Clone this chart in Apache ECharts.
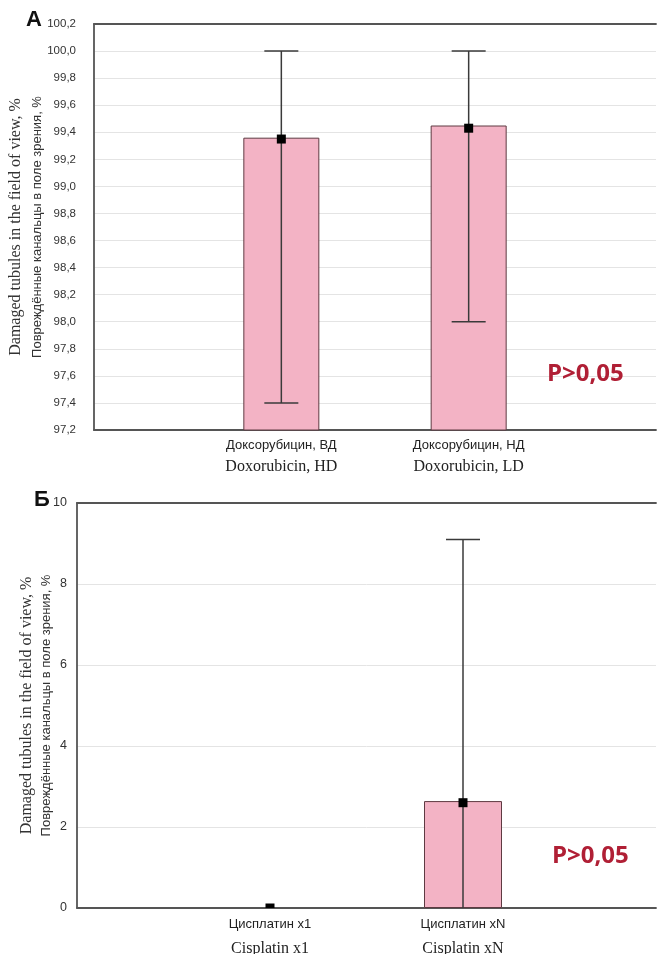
<!DOCTYPE html>
<html>
<head>
<meta charset="utf-8">
<script src="https://cdn.jsdelivr.net/npm/echarts@6/dist/echarts.min.js"></script>
<style>html,body{margin:0;padding:0;background:#fff}#c{width:657px;height:954px}</style>
</head>
<body>
<div id="c"></div>
<script>
// ---- Panel A (Doxorubicin) ----
const catsTopRu = ['Доксорубицин, ВД', 'Доксорубицин, НД'];
const catsTopEn = ['Doxorubicin, HD', 'Doxorubicin, LD'];
const barTop = [99.36, 99.45];
const meanTop = [99.35, 99.43];
const lowTop = [97.4, 98.0];
const highTop = [100.0, 100.0];
const yTopMin = 97.2, yTopMax = 100.2, yTopStep = 0.2;

// ---- Panel Б (Cisplatin) ----
const catsBotRu = ['Цисплатин x1', 'Цисплатин xN'];
const catsBotEn = ['Cisplatin x1', 'Cisplatin xN'];
const barBot = [0, 2.64];
const meanBot = [0, 2.6];
const lowBot = [0, 0];
const highBot = [0, 9.1];
const yBotMin = 0, yBotMax = 10, yBotStep = 2;

const yNameEn = 'Damaged tubules in the field of view, %';
const yNameRu = 'Повреждённые канальцы в поле зрения, %';
const pText = 'P>0,05';

const AX = '#555';
const GRID = '#e4e4e4';
const BAR = '#f3b3c5';
const BAR_BORDER = '#5e3a42';
const ERR = '#3a3a3a';

function padCats(arr) { return [''].concat(arr.map((_, i) => String(i)), ['']); }
function catLabel(ru, en) {
  return function (v, idx) {
    if (idx === 0 || idx === ru.length + 1) return '';
    return '{ru|' + ru[idx - 1] + '}\n{en|' + en[idx - 1] + '}';
  };
}
function errData(low, high, mean) {
  return low.map((l, i) => [i + 1, l, high[i], mean[i]]);
}
function barData(v) {
  return v.map((x, i) => (x === 0
    ? { value: [i + 1, x], itemStyle: { borderWidth: 0 } }
    : [i + 1, x]));
}

function renderErr(params, api) {
  const x = api.value(0), lo = api.value(1), hi = api.value(2), m = api.value(3);
  const cs = params.coordSys;
  const bottom = cs.y + cs.height;
  const pLo = api.coord([x, lo]);
  const pHi = api.coord([x, hi]);
  const pM = api.coord([x, m]);
  const cap = 17;
  const style = { stroke: ERR, lineWidth: 1.5 };
  const children = [];
  if (hi > lo) {
    children.push({ type: 'line', shape: { x1: pLo[0], y1: pLo[1], x2: pHi[0], y2: pHi[1] }, style: style });
    children.push({ type: 'line', shape: { x1: pHi[0] - cap, y1: pHi[1], x2: pHi[0] + cap, y2: pHi[1] }, style: style });
    if (pLo[1] < bottom - 1.5) {
      children.push({ type: 'line', shape: { x1: pLo[0] - cap, y1: pLo[1], x2: pLo[0] + cap, y2: pLo[1] }, style: style });
    }
  }
  const s = 9;
  const y1 = pM[1] - s / 2;
  const y2 = Math.min(pM[1] + s / 2, bottom);
  children.push({ type: 'rect', shape: { x: pM[0] - s / 2, y: y1, width: s, height: y2 - y1 }, style: { fill: '#000' } });
  return { type: 'group', children: children };
}

const chart = echarts.init(document.getElementById('c'), null, { renderer: 'canvas' });

function xAxes(gridIndex, ru, en, ruLH, enLH, margin) {
  return [
    {
      gridIndex: gridIndex, type: 'category', data: padCats(ru), boundaryGap: false,
      axisLine: { lineStyle: { color: AX, width: 1.8 } },
      axisTick: { show: false },
      splitLine: { show: false },
      axisLabel: {
        interval: 0, margin: margin, formatter: catLabel(ru, en),
        rich: {
          ru: { fontFamily: 'Liberation Sans', fontSize: 13, color: '#222', lineHeight: ruLH },
          en: { fontFamily: 'Liberation Serif', fontSize: 16, color: '#222', lineHeight: enLH }
        }
      }
    },
    {
      gridIndex: gridIndex, type: 'category', data: padCats(ru), boundaryGap: false, position: 'top',
      axisLine: { lineStyle: { color: AX, width: 1.8 } },
      axisTick: { show: false }, axisLabel: { show: false }, splitLine: { show: false }
    }
  ];
}

function yAxis(gridIndex, min, max, step, labelSize, labelMargin, nameGap, enLH, ruLH) {
  return {
    gridIndex: gridIndex, type: 'value', min: min, max: max, interval: step,
    axisLine: { show: true, lineStyle: { color: AX, width: 1.8 } },
    axisTick: { show: false },
    splitLine: { show: true, lineStyle: { color: GRID, width: 1 } },
    axisLabel: {
      margin: labelMargin, fontFamily: 'Liberation Sans', fontSize: labelSize, color: '#333',
      formatter: v => (step < 1 ? v.toFixed(1).replace('.', ',') : String(Math.round(v)))
    },
    name: '{en|' + yNameEn + '}\n{ru|' + yNameRu + '}',
    nameLocation: 'middle', nameRotate: 90, nameGap: nameGap, nameMoveOverlap: false,
    nameTextStyle: {
      rich: {
        en: { fontFamily: 'Liberation Serif', fontSize: 16, color: '#333', lineHeight: enLH },
        ru: { fontFamily: 'Liberation Sans', fontSize: 13, color: '#333', lineHeight: ruLH }
      }
    }
  };
}

const option = {
  animation: false,
  backgroundColor: '#fff',
  grid: [
    { left: 94, top: 24, width: 562, height: 406, outerBoundsMode: 'none', containLabel: false },
    { left: 77, top: 503, width: 579, height: 405, outerBoundsMode: 'none', containLabel: false }
  ],
  xAxis: [].concat(
    xAxes(0, catsTopRu, catsTopEn, 18, 26, 6),
    xAxes(1, catsBotRu, catsBotEn, 18, 32, 7)
  ),
  yAxis: [
    yAxis(0, yTopMin, yTopMax, yTopStep, 11.5, 18, 47, 22, 20),
    yAxis(1, yBotMin, yBotMax, yBotStep, 12.5, 10, 21, 19, 20)
  ],
  series: [
    {
      type: 'bar', xAxisIndex: 0, yAxisIndex: 0, barWidth: 76, data: barData(barTop),
      itemStyle: { color: BAR, borderColor: BAR_BORDER, borderWidth: 1 }
    },
    {
      type: 'custom', xAxisIndex: 0, yAxisIndex: 0, renderItem: renderErr, z: 5,
      data: errData(lowTop, highTop, meanTop)
    },
    {
      type: 'bar', xAxisIndex: 2, yAxisIndex: 1, barWidth: 78, data: barData(barBot),
      itemStyle: { color: BAR, borderColor: BAR_BORDER, borderWidth: 1 }
    },
    {
      type: 'custom', xAxisIndex: 2, yAxisIndex: 1, renderItem: renderErr, z: 5,
      data: errData(lowBot, highBot, meanBot)
    }
  ],
  graphic: [
    { type: 'text', z: 100, left: 26, top: 9, style: { text: 'А', font: 'bold 22px "Liberation Sans"', fill: '#111' } },
    { type: 'text', z: 100, left: 34, top: 489, style: { text: 'Б', font: 'bold 22px "Liberation Sans"', fill: '#111' } },
    { type: 'text', z: 100, left: 547, top: 362, style: { text: pText, font: 'bold 24px "Open Sans"', fill: '#b01f35' } },
    { type: 'text', z: 100, left: 552, top: 844, style: { text: pText, font: 'bold 24px "Open Sans"', fill: '#b01f35' } }
  ]
};
chart.setOption(option);
</script>
</body>
</html>
